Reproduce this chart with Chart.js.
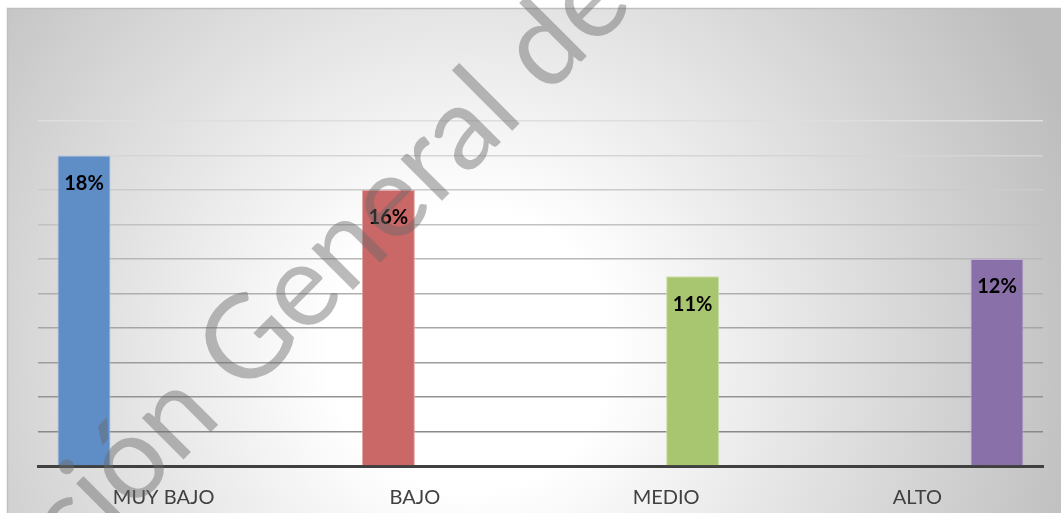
<!DOCTYPE html>
<html>
<head>
<meta charset="utf-8">
<script src="https://cdn.jsdelivr.net/npm/chart.js@4/dist/chart.umd.min.js"></script>
<style>
  html, body { margin: 0; padding: 0; background: #fff; }
  #wrap { width: 1061px; height: 513px; }
</style>
</head>
<body>
<div id="wrap"><canvas id="myChart"></canvas></div>
<script>
'use strict';

// chart data
var categories = ['MUY BAJO', 'BAJO', 'MEDIO', 'ALTO'];
var values = [18, 16, 11, 12];
var barColors = ['#5f8dc5', '#c96866', '#a8c56f', '#8a70a8'];
var barEdges = ['#a9c3e3', '#e3a9a8', '#cfe0ad', '#c2b3d5'];
var yMax = 20;
var yStep = 2;
var watermark = 'Dirección General de Bibliotecas';

// one dataset per category so every bar keeps its own slot in the group
var datasets = [];
for (var i = 0; i < categories.length; i++) {
  var data = [];
  for (var j = 0; j < categories.length; j++) {
    data.push(j === i ? values[i] : null);
  }
  datasets.push({
    label: categories[i],
    data: data,
    backgroundColor: barColors[i],
    borderColor: barEdges[i],
    borderWidth: 1,
    borderSkipped: 'bottom',
    barPercentage: 1,
    categoryPercentage: 0.845
  });
}

// ---------- background: white page + radial gray chart area ----------
var backgroundPlugin = {
  id: 'background',
  beforeDraw: function (chart) {
    var ctx = chart.ctx;
    ctx.save();
    ctx.fillStyle = '#ffffff';
    ctx.fillRect(0, 0, chart.width, chart.height);
    var g = ctx.createRadialGradient(470, 350, 0, 470, 350, 640);
    g.addColorStop(0, '#ffffff');
    g.addColorStop(0.22, '#ffffff');
    g.addColorStop(1, '#bdbdbd');
    ctx.fillStyle = g;
    ctx.fillRect(7, 8, chart.width - 7, chart.height - 8);
    ctx.strokeStyle = '#bfbfbf';
    ctx.lineWidth = 1.5;
    ctx.beginPath();
    ctx.moveTo(7.5, chart.height);
    ctx.lineTo(7.5, 8.5);
    ctx.lineTo(chart.width, 8.5);
    ctx.stroke();
    ctx.restore();
  }
};

// ---------- value labels inside the top of each bar ----------
var barLabelPlugin = {
  id: 'barLabels',
  afterDatasetsDraw: function (chart) {
    var ctx = chart.ctx;
    ctx.save();
    ctx.font = 'bold 20px Lato, "Open Sans", sans-serif';
    ctx.fillStyle = '#000000';
    ctx.textAlign = 'center';
    ctx.textBaseline = 'middle';
    chart.data.datasets.forEach(function (ds, d) {
      var meta = chart.getDatasetMeta(d);
      meta.data.forEach(function (bar, k) {
        if (ds.data[k] === null) return;
        ctx.fillText(ds.data[k] + '%', bar.x, bar.y + 28);
      });
    });
    ctx.restore();
  }
};

// ---------- diagonal watermark on top ----------
var watermarkPlugin = {
  id: 'watermark',
  afterDraw: function (chart) {
    var ctx = chart.ctx;
    ctx.save();
    ctx.font = '116px Lato, "Open Sans", sans-serif';
    ctx.fillStyle = 'rgba(105, 105, 105, 0.45)';
    ctx.textBaseline = 'middle';
    ctx.textAlign = 'left';
    // anchor on the centre of the "G"
    ctx.translate(248, 342);
    ctx.rotate(-45 * Math.PI / 180);
    var before = ctx.measureText('Dirección ').width;
    var gHalf = ctx.measureText('G').width / 2;
    ctx.fillText(watermark, -before - gHalf, 0);
    ctx.restore();
  }
};

var ctx = document.getElementById('myChart').getContext('2d');
var chart = new Chart(ctx, {
  type: 'bar',
  data: {
    labels: categories,
    datasets: datasets
  },
  plugins: [backgroundPlugin, barLabelPlugin, watermarkPlugin],
  options: {
    responsive: true,
    maintainAspectRatio: false,
    animation: false,
    layout: {
      padding: { left: 38, right: 18, top: 121, bottom: 0 }
    },
    plugins: {
      legend: { display: false },
      tooltip: { enabled: false },
      title: { display: false }
    },
    scales: {
      x: {
        grid: { display: false, drawTicks: false },
        border: { display: true, color: '#404040', width: 3 },
        ticks: {
          color: '#404040',
          font: { family: 'Lato, "Open Sans", sans-serif', size: 20 },
          padding: 20
        },
        afterFit: function (scale) {
          scale.height = 47;
        }
      },
      y: {
        min: 0,
        max: yMax,
        ticks: { display: false, stepSize: yStep },
        border: { display: false },
        grid: {
          drawTicks: false,
          lineWidth: 1.5,
          color: function (c) {
            var v = c.tick ? c.tick.value : 0;
            if (v === 0) return 'rgba(0,0,0,0)';
            // lighter toward the top, darker toward the bottom
            var t = v / yMax;
            var shade = Math.round(128 + t * (222 - 128));
            return 'rgb(' + shade + ',' + shade + ',' + shade + ')';
          }
        }
      }
    }
  }
});
</script>
</body>
</html>
